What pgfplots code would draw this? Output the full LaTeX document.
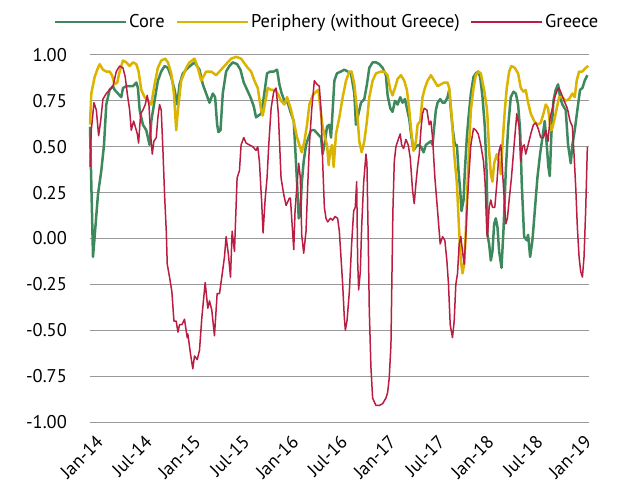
\documentclass[border=0pt]{standalone}
\usepackage{fontspec}
\setmainfont{PT Sans}
\usepackage{pgfplots}
\pgfplotsset{compat=1.18}

\definecolor{core}{RGB}{62,136,94}
\definecolor{peri}{RGB}{218,180,0}
\definecolor{greece}{RGB}{186,28,66}

% months since Jan-14, correlation
\pgfplotstableread{
m v
0.00 0.61
0.37 -0.10
0.57 0.01
0.98 0.24
1.39 0.37
1.72 0.51
2.00 0.73
2.41 0.81
2.82 0.83
3.03 0.81
3.44 0.79
3.84 0.77
4.05 0.82
4.46 0.83
4.87 0.83
5.28 0.83
5.69 0.85
5.89 0.82
6.10 0.70
6.50 0.62
6.91 0.59
7.32 0.51
7.53 0.64
7.93 0.75
8.34 0.86
8.75 0.91
9.16 0.94
9.57 0.93
9.98 0.88
10.39 0.81
10.72 0.73
11.00 0.84
11.41 0.90
12.03 0.93
12.84 0.96
13.45 0.92
13.86 0.84
14.27 0.79
14.68 0.74
15.09 0.79
15.37 0.77
15.62 0.62
15.78 0.58
16.03 0.59
16.31 0.79
16.72 0.91
17.13 0.94
17.54 0.96
18.07 0.95
18.48 0.92
18.89 0.85
19.30 0.81
19.71 0.77
20.12 0.72
20.40 0.66
20.69 0.67
21.02 0.68
21.35 0.77
21.75 0.90
22.16 0.91
22.57 0.91
22.98 0.92
23.27 0.84
23.55 0.79
23.88 0.75
24.29 0.74
24.70 0.68
25.03 0.64
25.19 0.51
25.44 0.30
25.64 0.11
25.84 0.13
26.01 0.30
26.25 0.42
26.54 0.51
26.83 0.55
27.15 0.59
27.56 0.59
27.97 0.57
28.38 0.55
28.58 0.46
28.87 0.53
29.12 0.61
29.40 0.62
29.61 0.55
29.81 0.70
30.02 0.86
30.34 0.90
30.83 0.91
31.24 0.92
31.65 0.91
32.06 0.90
32.47 0.79
32.67 0.62
32.88 0.66
33.29 0.74
33.70 0.76
34.02 0.84
34.31 0.93
34.72 0.96
35.13 0.96
35.54 0.95
35.95 0.93
36.35 0.89
36.56 0.78
36.89 0.71
37.17 0.69
37.46 0.75
37.79 0.73
38.11 0.77
38.40 0.74
38.69 0.76
38.93 0.71
39.22 0.65
39.50 0.55
39.75 0.48
40.04 0.50
40.32 0.51
40.65 0.50
40.98 0.47
41.26 0.51
41.55 0.52
41.88 0.53
42.08 0.51
42.29 0.61
42.49 0.70
42.70 0.74
43.02 0.76
43.31 0.74
43.59 0.74
43.92 0.77
44.13 0.81
44.33 0.70
44.58 0.59
44.82 0.51
45.07 0.51
45.27 0.37
45.48 0.26
45.64 0.15
45.89 0.21
46.05 0.37
46.29 0.55
46.50 0.66
46.79 0.79
47.11 0.88
47.40 0.90
47.69 0.91
47.93 0.88
48.22 0.77
48.50 0.61
48.75 0.33
48.83 0.02
49.03 -0.03
49.24 -0.12
49.44 -0.07
49.65 0.08
49.85 0.11
50.06 0.06
50.26 -0.07
50.55 -0.16
50.79 0.04
51.08 0.37
51.37 0.61
51.69 0.77
52.02 0.80
52.31 0.79
52.59 0.73
52.84 0.59
53.04 0.30
53.33 0.01
53.66 -0.01
53.82 0.02
54.07 -0.10
54.35 -0.01
54.64 0.15
54.96 0.33
55.29 0.46
55.58 0.55
55.86 0.64
56.11 0.51
56.31 0.39
56.48 0.34
56.68 0.57
56.93 0.75
57.21 0.81
57.50 0.84
57.75 0.77
58.03 0.73
58.44 0.70
58.73 0.51
59.06 0.41
59.26 0.51
59.55 0.59
59.87 0.70
60.20 0.81
60.49 0.82
60.77 0.86
61.10 0.89
}\core

\pgfplotstableread{
m v
0.00 0.62
0.16 0.79
0.57 0.88
0.98 0.93
1.19 0.95
1.59 0.92
2.00 0.91
2.41 0.91
2.70 0.89
3.03 0.84
3.35 0.85
3.64 0.91
4.05 0.97
4.46 0.96
4.87 0.94
5.28 0.96
5.69 0.95
5.97 0.91
6.30 0.81
6.71 0.77
7.12 0.75
7.53 0.73
7.93 0.84
8.34 0.93
8.75 0.97
9.24 0.98
9.57 0.96
9.98 0.90
10.31 0.79
10.59 0.59
10.80 0.70
11.20 0.86
11.82 0.93
12.23 0.96
12.84 0.98
13.25 0.93
13.66 0.86
14.27 0.91
14.88 0.91
15.50 0.89
16.11 0.92
16.72 0.95
17.34 0.98
17.95 0.99
18.56 0.98
19.05 0.95
19.38 0.93
19.79 0.91
20.20 0.86
20.61 0.82
21.02 0.70
21.22 0.67
21.51 0.74
21.84 0.82
22.25 0.81
22.65 0.81
23.06 0.79
23.47 0.75
23.88 0.73
24.21 0.77
24.29 0.76
24.70 0.70
25.11 0.62
25.44 0.55
25.72 0.51
26.01 0.47
26.34 0.53
26.66 0.62
26.95 0.73
27.36 0.78
27.77 0.80
28.05 0.81
28.30 0.71
28.58 0.61
28.87 0.55
29.12 0.51
29.32 0.40
29.52 0.48
29.73 0.51
29.93 0.39
30.22 0.57
30.63 0.66
31.04 0.77
31.45 0.86
31.86 0.91
32.14 0.91
32.47 0.84
32.80 0.70
33.08 0.53
33.37 0.47
33.70 0.53
34.02 0.64
34.31 0.77
34.72 0.86
35.13 0.90
35.74 0.91
36.15 0.91
36.56 0.89
36.89 0.81
37.17 0.78
37.46 0.82
37.79 0.87
38.20 0.89
38.60 0.86
38.93 0.81
39.22 0.70
39.50 0.57
39.75 0.48
40.04 0.53
40.24 0.62
40.57 0.64
40.85 0.77
41.14 0.82
41.47 0.86
41.88 0.89
42.29 0.86
42.70 0.83
43.10 0.84
43.51 0.85
43.92 0.85
44.13 0.82
44.41 0.68
44.74 0.46
45.07 0.30
45.35 0.04
45.56 -0.12
45.76 -0.19
45.97 -0.14
46.17 0.04
46.38 0.30
46.58 0.51
46.79 0.70
47.11 0.82
47.40 0.89
47.69 0.91
48.01 0.90
48.42 0.81
48.75 0.71
48.83 0.66
49.03 0.48
49.24 0.35
49.44 0.31
49.65 0.41
49.98 0.46
50.26 0.41
50.47 0.35
50.67 0.51
50.96 0.70
51.20 0.82
51.49 0.91
51.77 0.94
52.18 0.93
52.59 0.90
52.92 0.82
53.25 0.80
53.53 0.81
53.82 0.74
54.15 0.68
54.56 0.64
54.96 0.62
55.37 0.63
55.70 0.68
55.99 0.73
56.27 0.71
56.52 0.62
56.72 0.59
57.01 0.64
57.34 0.71
57.62 0.77
58.03 0.77
58.44 0.75
58.85 0.76
59.26 0.79
59.55 0.77
59.79 0.86
60.08 0.91
60.49 0.91
60.89 0.93
61.22 0.94
}\peri

\pgfplotstableread{
m v
0.00 0.39
0.16 0.59
0.49 0.74
0.78 0.70
1.06 0.56
1.31 0.64
1.59 0.76
2.00 0.79
2.41 0.81
2.82 0.83
3.23 0.91
3.64 0.94
4.05 0.93
4.33 0.88
4.58 0.79
4.87 0.70
5.07 0.59
5.36 0.64
5.56 0.61
5.81 0.57
5.97 0.52
6.22 0.68
6.50 0.70
6.79 0.73
7.03 0.78
7.24 0.73
7.44 0.57
7.65 0.46
7.85 0.53
8.14 0.55
8.34 0.66
8.55 0.73
8.75 0.70
8.96 0.48
9.16 0.24
9.37 0.04
9.49 -0.14
9.77 -0.21
10.06 -0.29
10.31 -0.45
10.59 -0.45
10.80 -0.51
11.00 -0.47
11.29 -0.47
11.61 -0.44
11.94 -0.54
12.02 -0.52
12.35 -0.63
12.63 -0.71
12.84 -0.64
13.17 -0.66
13.45 -0.61
13.74 -0.43
14.15 -0.24
14.47 -0.38
14.68 -0.34
14.96 -0.39
15.29 -0.53
15.62 -0.30
15.91 -0.30
16.19 -0.21
16.52 -0.10
16.72 0.01
17.01 -0.09
17.26 -0.21
17.46 0.04
17.75 -0.07
18.07 0.33
18.36 0.37
18.56 0.51
18.89 0.55
19.18 0.52
19.59 0.51
20.00 0.50
20.40 0.48
20.61 0.50
20.81 0.42
21.10 0.19
21.26 0.03
21.51 0.21
21.75 0.33
21.96 0.51
22.25 0.71
22.57 0.80
22.86 0.82
23.14 0.68
23.47 0.33
23.80 0.24
24.09 0.18
24.49 0.22
24.62 0.22
24.78 0.11
25.03 -0.06
25.19 0.15
25.44 0.30
25.64 0.41
25.84 0.33
26.01 0.02
26.25 -0.08
26.54 0.04
26.74 0.28
26.95 0.51
27.23 0.70
27.56 0.86
27.89 0.84
28.17 0.83
28.38 0.70
28.58 0.42
28.79 0.17
28.99 0.11
29.20 0.09
29.52 0.11
29.81 0.10
30.10 0.12
30.42 0.11
30.63 0.04
30.83 -0.10
31.04 -0.25
31.24 -0.43
31.37 -0.50
31.57 -0.45
31.86 -0.29
32.14 -0.03
32.39 0.15
32.59 0.17
32.76 0.31
32.88 -0.12
33.00 -0.28
33.21 -0.18
33.37 0.06
33.61 0.30
33.90 0.46
34.02 0.41
34.19 -0.03
34.31 -0.39
34.51 -0.70
34.72 -0.87
35.13 -0.91
35.54 -0.91
35.95 -0.90
36.35 -0.87
36.56 -0.84
36.76 -0.76
36.97 -0.58
37.09 -0.21
37.21 0.15
37.38 0.42
37.58 0.50
37.79 0.53
38.11 0.57
38.28 0.51
38.52 0.49
38.81 0.54
39.09 0.51
39.34 0.44
39.63 0.26
39.83 0.19
40.04 0.30
40.24 0.39
40.45 0.46
40.65 0.59
40.85 0.68
41.06 0.71
41.39 0.70
41.67 0.62
41.88 0.64
42.08 0.55
42.37 0.33
42.70 0.15
43.02 -0.03
43.31 0.01
43.59 -0.01
43.84 -0.12
44.04 -0.25
44.25 -0.47
44.53 -0.54
44.74 -0.45
44.94 -0.25
45.15 -0.19
45.35 -0.03
45.56 0.01
45.76 -0.07
45.97 -0.14
46.17 0.02
46.38 0.22
46.58 0.37
46.79 0.51
47.11 0.60
47.40 0.59
47.69 0.57
48.01 0.51
48.34 0.42
48.54 0.30
48.75 0.03
48.83 0.01
49.03 0.17
49.24 0.21
49.44 0.17
49.73 0.17
49.98 0.30
50.26 0.48
50.47 0.51
50.67 0.37
50.88 0.22
51.08 0.08
51.28 0.11
51.49 0.21
51.77 0.33
52.10 0.51
52.43 0.68
52.71 0.61
52.92 0.42
53.12 0.50
53.33 0.51
53.53 0.46
53.82 0.51
54.15 0.57
54.47 0.62
54.76 0.63
55.05 0.60
55.37 0.55
55.70 0.55
55.99 0.59
56.27 0.53
56.52 0.66
56.81 0.71
57.09 0.77
57.42 0.81
57.62 0.82
57.91 0.79
58.24 0.75
58.64 0.71
58.97 0.64
59.26 0.61
59.46 0.46
59.67 0.28
59.87 0.06
60.08 -0.10
60.28 -0.18
60.49 -0.21
60.69 -0.10
60.89 0.15
61.10 0.50
}\greece

\begin{document}
\begin{tikzpicture}
\begin{axis}[
    scale only axis,
    width=499bp, height=367bp,
    xmin=0, xmax=61.3,
    ymin=-1, ymax=1,
    axis line style={draw=none},
    major tick length=0pt,
    xtick={0,6,...,60},
    xticklabels={Jan-14,Jul-14,Jan-15,Jul-15,Jan-16,Jul-16,Jan-17,Jul-17,Jan-18,Jul-18,Jan-19},
    xticklabel style={xshift=5bp, yshift=-12bp, rotate=45, anchor=north east, inner sep=0pt},
    ytick={-1,-0.75,...,1},
    yticklabels={-1.00,-0.75,-0.50,-0.25,0.00,0.25,0.50,0.75,1.00},
    yticklabel style={anchor=east, inner sep=0pt, xshift=-23bp},
    ymajorgrids,
    grid style={draw=black!40, line width=1bp},
    tick label style={font=\fontsize{18.5}{21}\selectfont},
    legend columns=3,
    legend style={draw=none, fill=none, at={(0.475,1.09)}, anchor=center,
        font=\fontsize{18.5}{21}\selectfont,
        /tikz/every even column/.append style={column sep=9bp}},
    legend image code/.code={\draw[#1] (0bp,0bp) -- (71bp,0bp);},
    clip=false,
]
\addplot[core, line width=2.5bp, line join=round] table[x=m, y=v] {\core};
\addlegendentry{Core}
\addplot[peri, line width=2.5bp, line join=round] table[x=m, y=v] {\peri};
\addlegendentry{Periphery (without Greece)}
\addplot[greece, line width=1.5bp, line join=round] table[x=m, y=v] {\greece};
\addlegendentry{Greece}
\coordinate (ll) at (rel axis cs:0,0);
\coordinate (ur) at (rel axis cs:1,1);
\end{axis}
\pgfresetboundingbox
\path ([shift={(-90bp,-69bp)}]ll) rectangle ([shift={(30bp,55bp)}]ur);
\end{tikzpicture}
\end{document}
